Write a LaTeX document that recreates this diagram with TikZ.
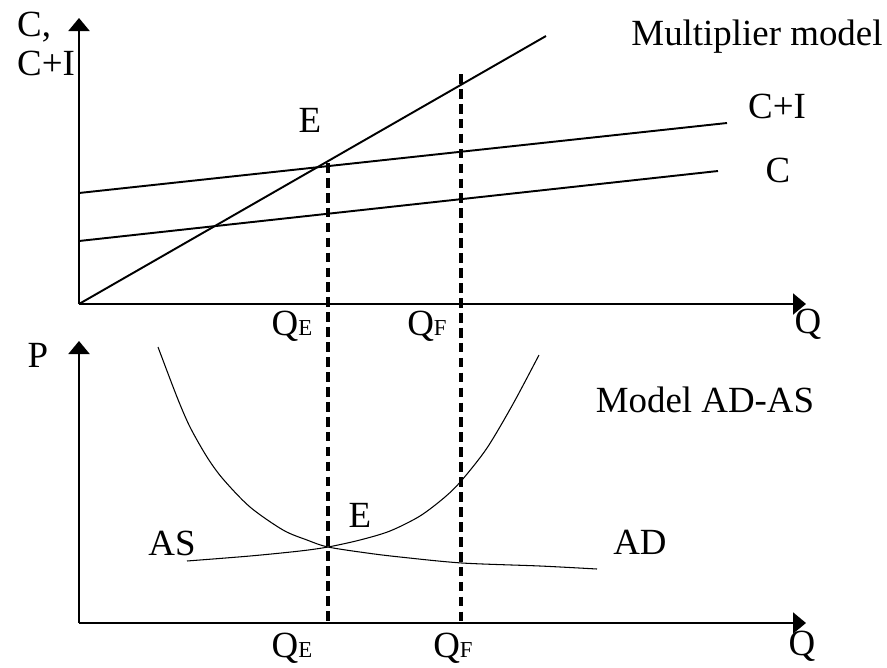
\documentclass[tikz,border=0pt]{standalone}
\usepackage{fontspec}
\setmainfont{Liberation Serif}
\usetikzlibrary{arrows.meta}
\newcommand{\Qlab}[1]{Q{\fontsize{13}{15}\selectfont #1}}
\begin{document}
\begin{tikzpicture}[x=0.02cm, y=-0.02cm,
  every node/.style={font=\fontsize{21}{25}\selectfont},
  axis/.style={line width=1.2pt, -{Triangle[width=0.42cm,length=0.26cm]}},
  line/.style={line width=1.1pt},
  guide/.style={line width=1.8pt, dash pattern=on 5.5pt off 3pt},
  curve/.style={line width=0.6pt}]
\useasboundingbox (0,0) rectangle (887,667);
% multiplier model
\coordinate (O1) at (79,304);
\coordinate (Y1) at (79,18);
\coordinate (X1) at (806,304);
\draw[axis] (O1) -- (Y1);
\draw[axis] (O1) -- (X1);
\coordinate (C0) at (79,241);
\coordinate (C1) at (718,171);
\coordinate (CI0) at (79,193);
\coordinate (CI1) at (727,123);
\coordinate (D1) at (546,36);
\draw[line] (C0) -- (C1);
\draw[line] (CI0) -- (CI1);
\draw[line] (O1) -- (D1);
\node (ylab1) [anchor=west] at (11,27) {C,};
\node (ylab2) [anchor=west] at (11,63) {C+I};
\node (title1) at (757,37) {Multiplier model};
\node (E1) at (310,120) {E};
\node (CIlab) at (777,106) {C+I};
\node (Clab) at (778,170) {C};
\node (QE1) at (292,326) {\Qlab{E}};
\node (QF1) at (427,326) {\Qlab{F}};
\node (Q1) at (808,324) {Q};
% AD-AS model
\coordinate (O2) at (79,623);
\coordinate (Y2) at (79,341);
\coordinate (X2) at (806,623);
\draw[axis] (O2) -- (Y2);
\draw[axis] (O2) -- (X2);
\node (P) at (38,355) {P};
\node (title2) at (705,400) {Model AD-AS};
\node (E2) at (360,515) {E};
\node (AS) at (172,543) {AS};
\node (AD) at (640,542) {AD};
\node (QE2) at (292,648) {\Qlab{E}};
\node (QF2) at (453,648) {\Qlab{F}};
\node (Q2) at (802,646) {Q};
\draw[curve] plot[smooth] coordinates {(158,347) (177,397) (190,427) (207,457)
  (223,479) (250,507) (283,530) (307,540) (328,547) (367,553) (400,557)
  (462,563) (540,566) (597,569)};
\draw[curve] plot[smooth] coordinates {(187,561) (250,556) (300,551) (328,547)
  (360,540) (390,531) (420,516) (445,497) (462,480) (487,448) (513,404) (539,355)};
% guides
\coordinate (qe) at (328,163);
\coordinate (qf) at (461,74);
\foreach \p in {qe,qf}
  \draw[guide] (\p) -- (\p |- O2);
\end{tikzpicture}
\end{document}
